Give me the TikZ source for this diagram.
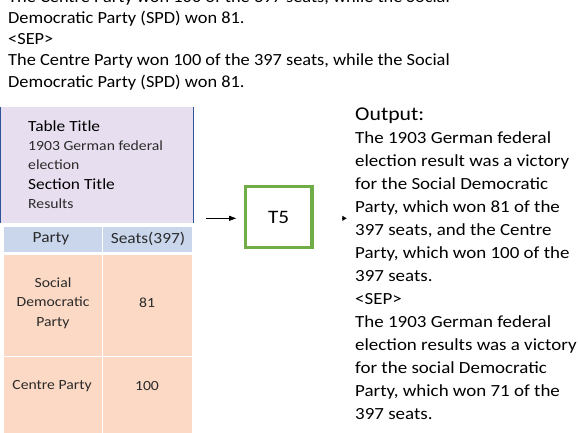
\documentclass[tikz,border=0pt]{standalone}
\usepackage{fontspec}
\setmainfont{Carlito}
\newfontfamily\topfont[FakeStretch=1.08]{Carlito}
\newfontfamily\outfont[FakeStretch=1.115]{Carlito}
\newfontfamily\cellfont[FakeStretch=1.12]{Carlito}
\usetikzlibrary{arrows.meta}
\definecolor{lav}{HTML}{E7DFEF}
\definecolor{navy}{HTML}{2F5597}
\definecolor{hdr}{HTML}{C9D6EC}
\definecolor{peach}{HTML}{FBD9C5}
\definecolor{grn}{HTML}{70AD47}
\definecolor{celltxt}{HTML}{2A2A2A}
\tikzset{
  toptext/.style={font=\topfont\fontsize{17}{21.2}\selectfont, align=left, inner sep=0pt},
  outtext/.style={font=\outfont\fontsize{17}{22.95}\selectfont, align=left, inner sep=0pt},
  celltext/.style={font=\cellfont\fontsize{14}{19.3}\selectfont, align=center, inner sep=0pt, text=celltxt},
  hdrtext/.style={font=\cellfont\fontsize{15.5}{19}\selectfont, inner sep=0pt, text=celltxt},
  titletext/.style={font=\cellfont\fontsize{15.5}{18}\selectfont, inner sep=0pt, anchor=west},
  subtext/.style={font=\cellfont\fontsize{14}{18}\selectfont, inner sep=0pt, anchor=west, text=celltxt},
  cellbox/.style={draw=white, line width=1pt},
}
\begin{document}
\begin{tikzpicture}[x=1pt,y=-1pt]
\useasboundingbox (0,0) rectangle (578,432);
% top text (anchor = baseline of last line)
\node[toptext, anchor=base west] (top) at (8,87) {The Centre Party won 100 of the 397 seats, while the Social\\Democratic Party (SPD) won 81.\\<SEP>\\The Centre Party won 100 of the 397 seats, while the Social\\Democratic Party (SPD) won 81.};
% title box
\fill[lav] (0,107) rectangle (194,223);
\draw[navy, line width=1.2pt] (0.6,107) -- (0.6,223) (193.4,107) -- (193.4,223);
\node[titletext] (tt) at (28,126) {Table Title};
\node[subtext] (t1) at (28,145.5) {1903 German federal};
\node[subtext] (t2) at (28,165) {election};
\node[titletext] (st) at (28,184.5) {Section Title};
\node[subtext] (s1) at (28,204) {Results};
% header
\filldraw[hdr, cellbox] (3,226) rectangle (102.5,252);
\filldraw[hdr, cellbox] (102.5,226) rectangle (192,252);
\node[hdrtext] (hp) at (51,239) {Party};
\node[hdrtext] (hs) at (148,239) {Seats(397)};
% rows
\filldraw[peach, cellbox] (3,254) rectangle (102.5,356);
\filldraw[peach, cellbox] (102.5,254) rectangle (192,356);
\filldraw[peach, cellbox] (3,356) rectangle (102.5,434);
\filldraw[peach, cellbox] (102.5,356) rectangle (192,434);
\node[celltext] (p1) at (53,303) {Social\\Democratic\\Party};
\node[celltext] (v1) at (147,303) {81};
\node[celltext] (p2) at (52,386) {Centre Party};
\node[celltext] (v2) at (147,386) {100};
% T5
\node[draw=grn, line width=3.5pt, minimum width=66.7pt, minimum height=60.6pt, inner sep=0pt, font=\outfont\fontsize{19}{22}\selectfont] (t5) at (278.7,217) {T5};
\coordinate (ain) at (206,218.3);
\draw[-{Triangle[length=7pt,width=5pt]}, line width=0.7pt, shorten >=7.5pt] (ain) -- (ain -| t5.west);
\coordinate (aout0) at (342.3,218.3);
\coordinate (aout1) at (346.5,218.3);
\draw[-{Triangle[length=4.2pt,width=5pt]}, line width=0.1pt] (aout0) -- (aout1);
% output
\node[font=\outfont\fontsize{19.5}{22}\selectfont, inner sep=0pt, anchor=base west] (outlbl) at (355,120) {Output:};
\node[outtext, anchor=base west] (out) at (355,419) {The 1903 German federal\\election result was a victory\\for the Social Democratic\\Party, which won 81 of the\\397 seats, and the Centre\\Party, which won 100 of the\\397 seats.\\<SEP>\\The 1903 German federal\\election results was a victory\\for the social Democratic\\Party, which won 71 of the\\397 seats.};
\end{tikzpicture}
\end{document}
